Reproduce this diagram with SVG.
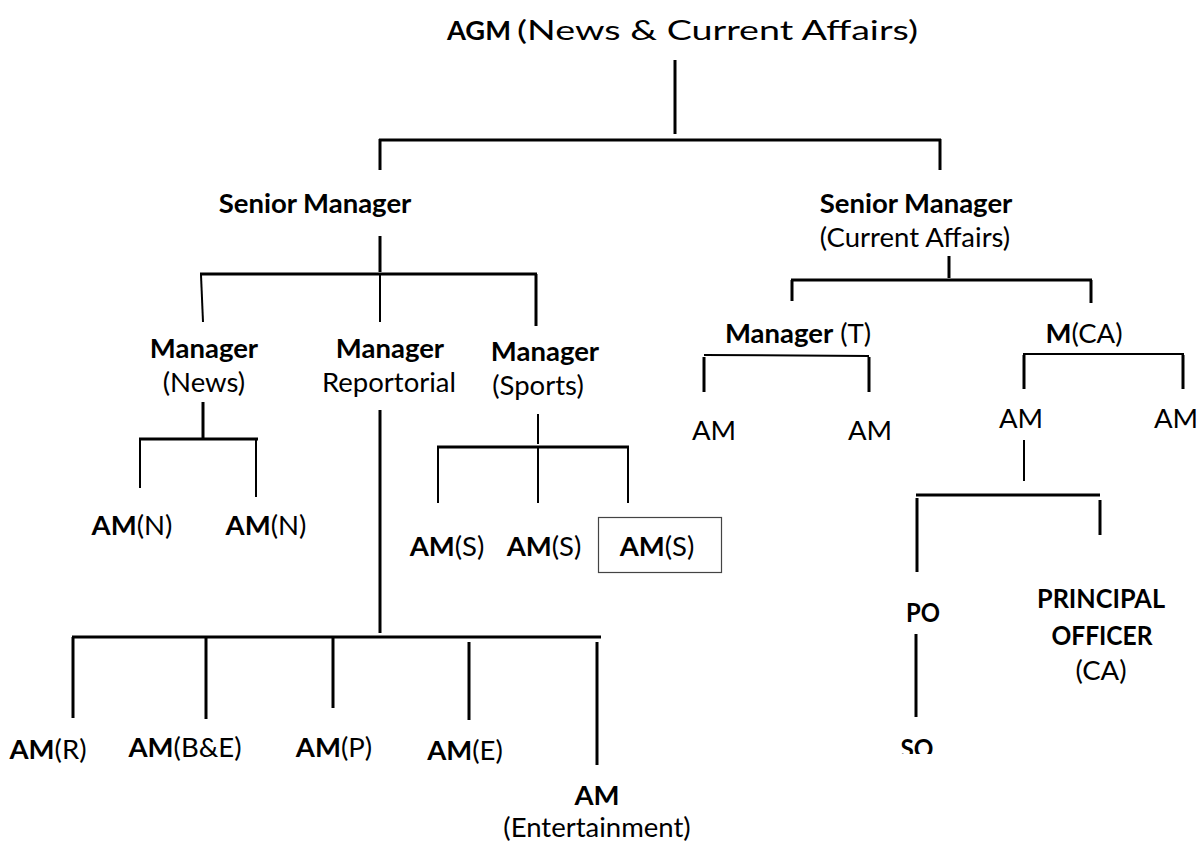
<svg xmlns="http://www.w3.org/2000/svg" width="1201" height="843" viewBox="0 0 1201 843">
<style>
text{font-family:Lato,"Liberation Sans",sans-serif;font-size:27.5px;fill:#000;text-anchor:middle}
.b{font-weight:bold}
.s{text-anchor:start}
.c line{stroke:#000;stroke-width:3;stroke-linecap:butt}
.c .t{stroke-width:2}
</style>
<defs><clipPath id="soclip"><rect x="880" y="725" width="80" height="29"/></clipPath></defs>
<rect width="1201" height="843" fill="#fff"/>
<g class="c" id="connectors">
<line x1="675" y1="60" x2="675" y2="134"/>
<line x1="379" y1="140" x2="941" y2="140"/>
<line x1="380" y1="139" x2="380" y2="170"/>
<line x1="940" y1="139" x2="940" y2="170"/>
<line x1="380" y1="236" x2="380" y2="272"/>
<line x1="200" y1="274" x2="537" y2="274"/>
<line class="t" x1="201" y1="275" x2="203" y2="322"/>
<line class="t" x1="380" y1="274" x2="380" y2="322"/>
<line x1="536" y1="274" x2="536" y2="326"/>
<line x1="203" y1="402" x2="203" y2="438"/>
<line x1="139" y1="439" x2="258" y2="439"/>
<line class="t" x1="140" y1="439" x2="140" y2="488"/>
<line class="t" x1="256" y1="439" x2="256" y2="497"/>
<line x1="380" y1="410" x2="380" y2="633"/>
<line class="t" x1="538" y1="414" x2="538" y2="444"/>
<line x1="437" y1="447" x2="629" y2="447"/>
<line class="t" x1="438" y1="447" x2="438" y2="503"/>
<line class="t" x1="538" y1="447" x2="538" y2="503"/>
<line class="t" x1="628" y1="447" x2="628" y2="503"/>
<line x1="72" y1="637" x2="601" y2="637"/>
<line x1="73" y1="637" x2="73" y2="718"/>
<line x1="206" y1="637" x2="206" y2="719"/>
<line x1="333" y1="637" x2="333" y2="708"/>
<line x1="469" y1="642" x2="469" y2="720"/>
<line x1="597" y1="642" x2="597" y2="765"/>
<line x1="949" y1="256" x2="949" y2="278"/>
<line x1="791" y1="280" x2="1092" y2="280"/>
<line x1="792" y1="280" x2="792" y2="301"/>
<line x1="1091" y1="280" x2="1091" y2="303"/>
<line class="t" x1="704" y1="355" x2="869" y2="356"/>
<line x1="704" y1="357" x2="704" y2="392"/>
<line x1="869" y1="357" x2="869" y2="392"/>
<line class="t" x1="1023" y1="354" x2="1184" y2="354"/>
<line x1="1024" y1="355" x2="1024" y2="389"/>
<line x1="1183" y1="355" x2="1183" y2="389"/>
<line class="t" x1="1024" y1="440" x2="1024" y2="481"/>
<line x1="916" y1="495" x2="1100" y2="495"/>
<line x1="917" y1="498" x2="917" y2="572"/>
<line x1="1100" y1="500" x2="1100" y2="535"/>
<line x1="916" y1="634" x2="916" y2="717"/>
</g>
<g id="agm"><text x="447" y="40" class="b s" style="font-size:27px" textLength="64" lengthAdjust="spacingAndGlyphs">AGM</text><text x="517" y="40" class="s" style="font-size:27px" textLength="401" lengthAdjust="spacingAndGlyphs">(News &amp; Current Affairs)</text></g>
<g id="sm-left"><text x="315" y="213" class="b">Senior Manager</text></g>
<g id="sm-right"><text x="916" y="213" class="b">Senior Manager</text><text x="915" y="247">(Current Affairs)</text></g>
<g id="mgr-news"><text x="204" y="358" class="b">Manager</text><text x="204" y="392">(News)</text></g>
<g id="mgr-rep"><text x="390" y="358" class="b">Manager</text><text x="389" y="392">Reportorial</text></g>
<g id="mgr-sports"><text x="545" y="361" class="b">Manager</text><text x="538" y="395">(Sports)</text></g>
<g id="mgr-t"><text x="798" y="343"><tspan class="b">Manager</tspan> (T)</text></g>
<g id="m-ca"><text x="1084" y="343"><tspan class="b">M</tspan>(CA)</text></g>
<g id="am-t1"><text x="714" y="440">AM</text></g>
<g id="am-t2"><text x="870" y="440">AM</text></g>
<g id="am-ca1"><text x="1021" y="428">AM</text></g>
<g id="am-ca2"><text x="1176" y="428">AM</text></g>
<g id="amn1"><text x="132" y="535"><tspan class="b">AM</tspan>(N)</text></g>
<g id="amn2"><text x="266" y="535"><tspan class="b">AM</tspan>(N)</text></g>
<g id="ams1"><text x="447" y="556"><tspan class="b">AM</tspan>(S)</text></g>
<g id="ams2"><text x="544" y="556"><tspan class="b">AM</tspan>(S)</text></g>
<g id="ams3"><rect x="598.5" y="517.5" width="123" height="55" fill="none" stroke="#444" stroke-width="1.2"/><text x="657" y="556"><tspan class="b">AM</tspan>(S)</text></g>
<g id="amr"><text x="48" y="759"><tspan class="b">AM</tspan>(R)</text></g>
<g id="ambe"><text x="185" y="757"><tspan class="b">AM</tspan>(B&amp;E)</text></g>
<g id="amp"><text x="334" y="757"><tspan class="b">AM</tspan>(P)</text></g>
<g id="ame"><text x="465" y="760"><tspan class="b">AM</tspan>(E)</text></g>
<g id="am-ent"><text x="597" y="805" class="b">AM</text><text x="597" y="837">(Entertainment)</text></g>
<g id="po"><text x="923" y="622" class="b" textLength="34" lengthAdjust="spacingAndGlyphs">PO</text></g>
<g id="so"><text x="917" y="758" class="b" clip-path="url(#soclip)" textLength="33" lengthAdjust="spacingAndGlyphs">SO</text></g>
<g id="principal"><text x="1101" y="608" class="b" textLength="128" lengthAdjust="spacingAndGlyphs">PRINCIPAL</text><text x="1102" y="645" class="b" textLength="101" lengthAdjust="spacingAndGlyphs">OFFICER</text><text x="1101" y="680">(CA)</text></g>
</svg>
